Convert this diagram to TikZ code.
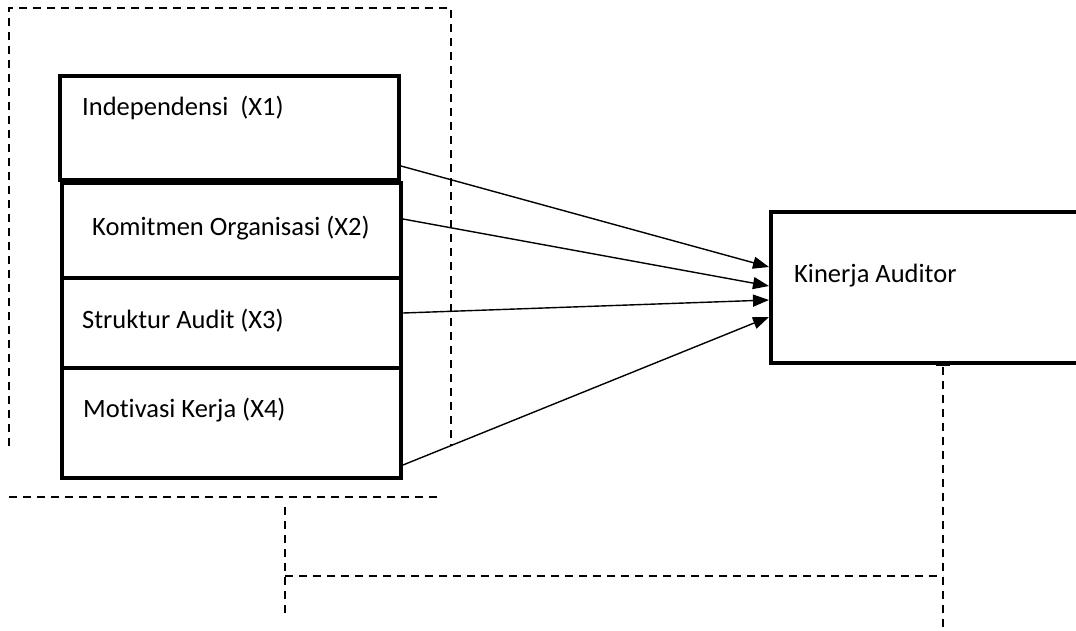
\documentclass[tikz,border=0pt]{standalone}
\usepackage{fontspec}
\setmainfont{Carlito}[Ligatures=NoCommon]
\usetikzlibrary{arrows.meta,calc}
\tikzset{
  varbox/.style={draw,line width=4pt,rectangle,inner sep=0pt,minimum width=339pt},
  lbl/.style={anchor=base west,inner sep=0pt,font=\fontsize{26.5}{30}\selectfont},
  arr/.style={line width=1.4pt,-{Triangle[length=16pt,width=12pt]}},
  dsh/.style={line width=1.4pt,dash pattern=on 8pt off 6pt},
}
\begin{document}
\begin{tikzpicture}[x=1pt,y=-1pt]
\useasboundingbox (0,0) rectangle (1076,630);
% boxes
\node[varbox,minimum height=104pt] (x1) at (229.5,128) {};
\node[varbox,minimum height=95pt] (x2) at (231.5,230.5) {};
\node[varbox,minimum height=90pt] (x3) at (231.5,323) {};
\node[varbox,minimum height=110pt] (x4) at (231.5,423) {};
\node[varbox,minimum width=309pt,minimum height=151pt] (ka) at (925.5,287.5) {};
% labels
\node[lbl] (t1) at (82,115) {Independensi\ \ (X1)};
\node[lbl] (t2) at (92,235) {Komitmen Organisasi (X2)};
\node[lbl] (t3) at (82,328) {Struktur Audit (X3)};
\node[lbl] (t4) at (83,417) {Motivasi Kerja (X4)};
\node[lbl] (t5) at (794,282) {Kinerja Auditor};
% arrows
\draw[arr] ([yshift=-38pt]x1.east) -- ([yshift=20.5pt]ka.west);
\draw[arr] ([yshift=11.5pt]x2.east) -- ([yshift=1.5pt]ka.west);
\draw[arr] ([yshift=10pt]x3.east) -- ([yshift=-12.5pt]ka.west);
\draw[arr] ([yshift=-42pt]x4.east) -- ([yshift=-29.5pt]ka.west);
% dashed frame
\coordinate (f1) at (9,446);
\coordinate (f2) at (9,8);
\coordinate (f3) at (451,8);
\coordinate (f4) at (451,446);
\draw[dsh] (f1) -- (f2) -- (f3) -- (f4);
\coordinate (b1) at (9,497);
\coordinate (b2) at (437,497);
\draw[dsh] (b1) -- (b2);
\coordinate (v1) at (285,507);
\coordinate (v2) at (285,613);
\draw[dsh] (v1) -- (v2);
\coordinate (h1) at (285,576);
\coordinate (h2) at (943,576);
\draw[dsh] (h1) -- (h2);
\coordinate (k1) at (943,367);
\coordinate (k2) at (943,630);
\draw[line width=3pt] (936,364.5) -- (950,364.5);
\draw[dsh] (k1) -- (k2);
\end{tikzpicture}
\end{document}
